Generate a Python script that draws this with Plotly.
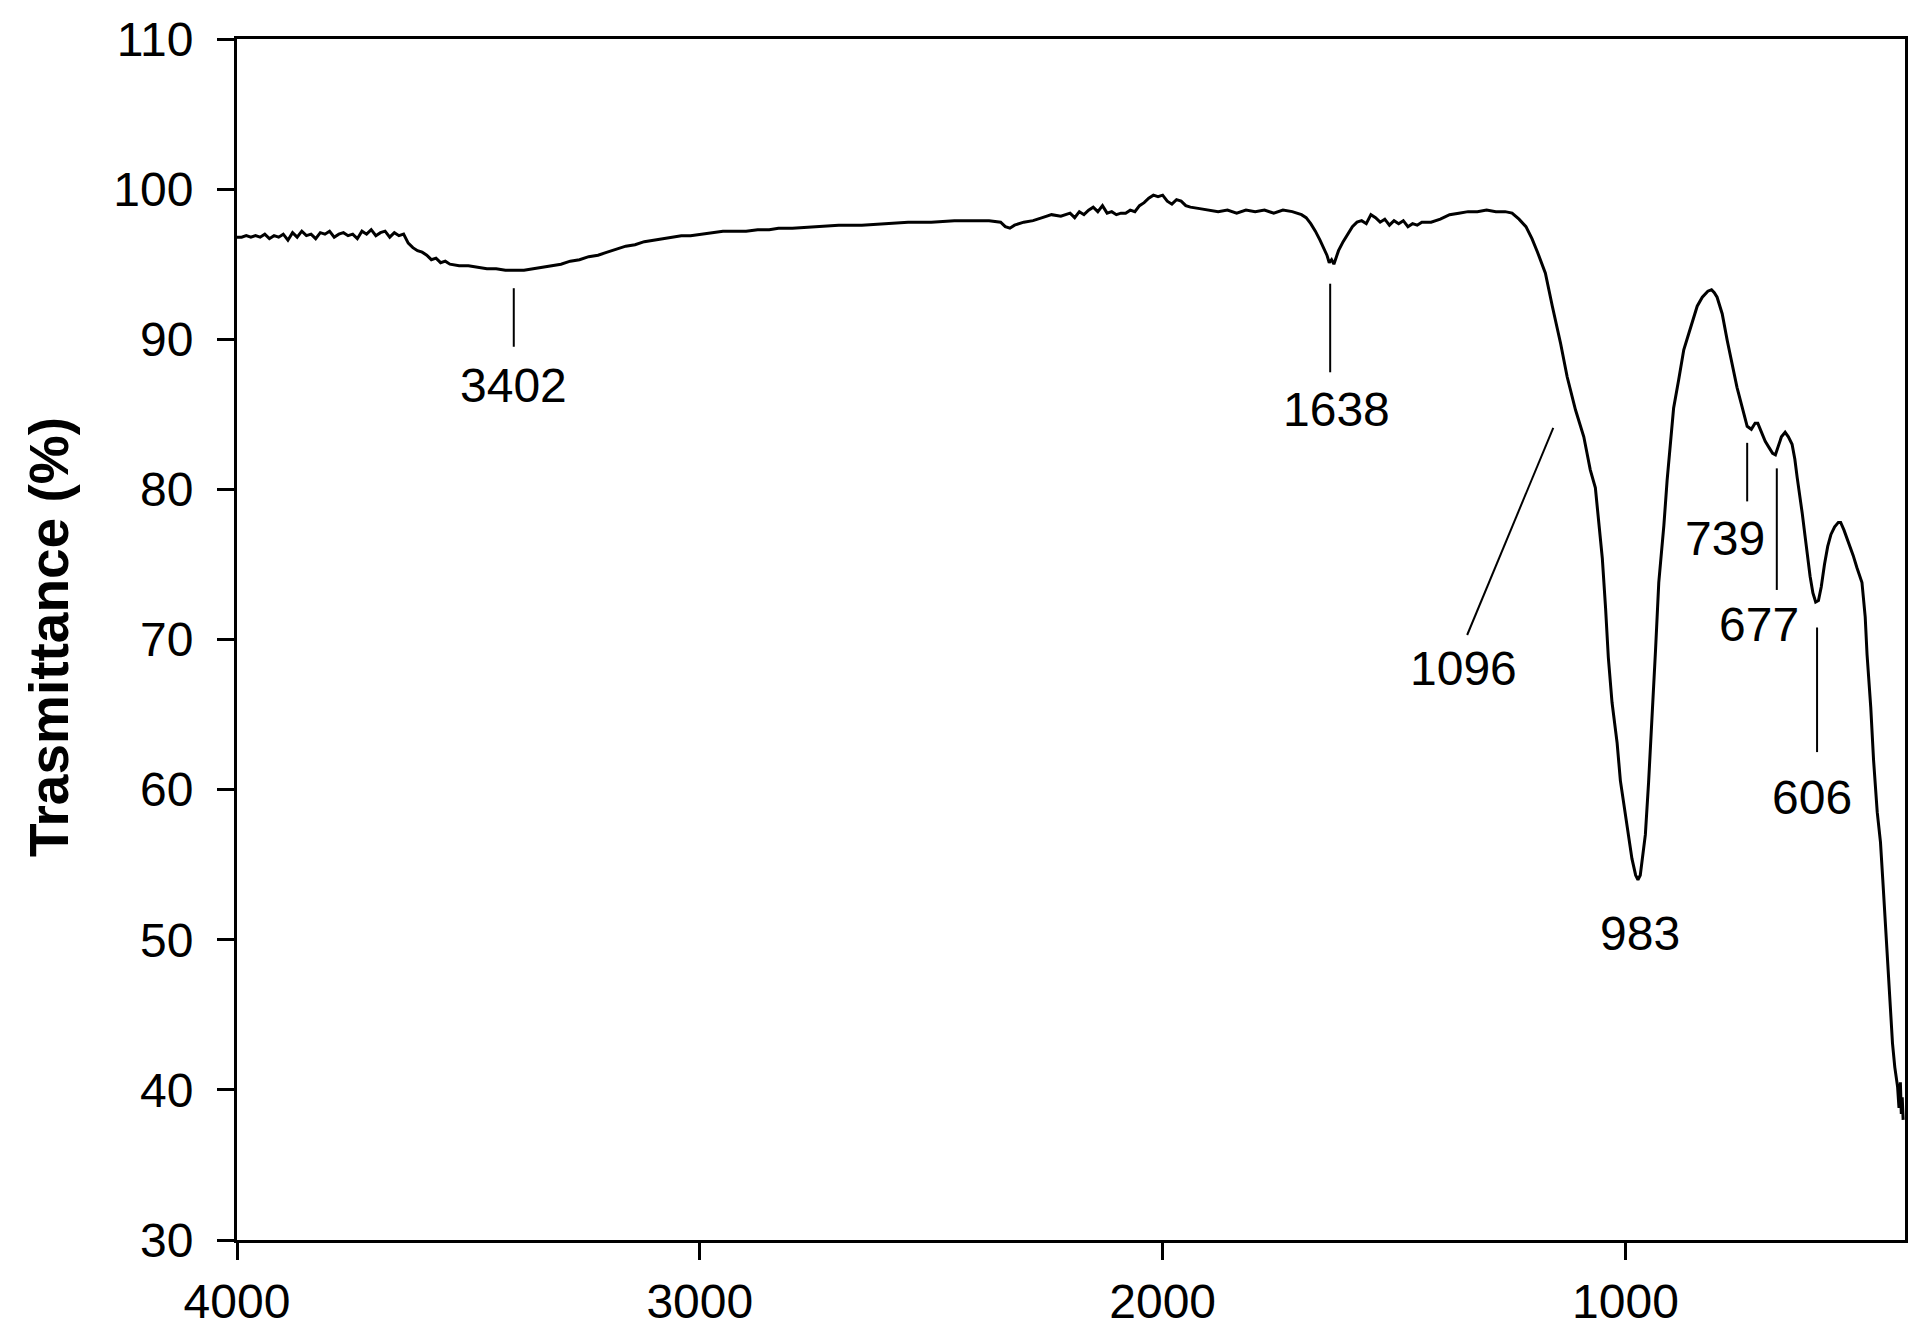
import plotly.graph_objects as go

# ---- data ----
wavenumber = [
    4000, 3990, 3980, 3970, 3960, 3950, 3940, 3930, 3920, 3910, 3900, 3890, 3880, 3870, 3860,
    3850, 3840, 3830, 3820, 3810, 3800, 3790, 3780, 3770, 3760, 3750, 3740, 3730, 3720, 3710,
    3700, 3690, 3680, 3670, 3660, 3650, 3640, 3630, 3620, 3610, 3600, 3590, 3580, 3570, 3560,
    3550, 3540, 3520, 3500, 3480, 3460, 3440, 3420, 3400, 3380, 3360, 3340, 3320, 3300, 3280,
    3260, 3240, 3220, 3200, 3180, 3160, 3140, 3120, 3100, 3080, 3060, 3040, 3020, 3000, 2975,
    2950, 2900, 2875, 2850, 2830, 2800, 2750, 2700, 2650, 2600, 2550, 2500, 2450, 2400, 2375,
    2350, 2340, 2330, 2320, 2300, 2280, 2260, 2240, 2220, 2200, 2190, 2180, 2170, 2160, 2150,
    2140, 2130, 2120, 2110, 2100, 2090, 2080, 2070, 2060, 2050, 2040, 2030, 2020, 2010, 2000,
    1990, 1980, 1970, 1960, 1950, 1940, 1920, 1900, 1880, 1860, 1840, 1820, 1800, 1780, 1760,
    1740, 1720, 1700, 1690, 1680, 1670, 1660, 1650, 1645, 1640, 1635, 1630, 1625, 1620, 1610,
    1600, 1590, 1580, 1570, 1560, 1550, 1540, 1530, 1520, 1510, 1500, 1490, 1480, 1470, 1460,
    1450, 1440, 1420, 1400, 1380, 1360, 1340, 1320, 1300, 1280, 1260, 1245, 1230, 1215, 1202,
    1190, 1173, 1158, 1140, 1126, 1108, 1090, 1076, 1065, 1058, 1050, 1043, 1037, 1029, 1018,
    1011, 1000, 993, 986, 978, 973, 968, 962, 957, 950, 942, 935, 928, 917, 910,
    903, 896, 885, 874, 863, 856, 845, 834, 822, 814, 808, 802, 791, 780, 769,
    759, 748, 737, 728, 720, 714, 706, 698, 690, 682, 676, 670, 663, 655, 648,
    640, 634, 629, 623, 618, 612, 607, 601, 595, 589, 583, 577, 570, 563, 556,
    548, 540, 535, 528, 522, 515, 508, 500, 489, 482, 478, 470, 464, 456, 449,
    444, 438, 431, 423, 418, 412, 409, 406, 404, 402, 400,
]
transmittance = [
    96.8, 96.8, 96.9, 96.8, 96.9, 96.8, 97.0, 96.7, 96.9, 96.8, 97.0, 96.6, 97.1, 96.8, 97.2,
    96.9, 97.0, 96.7, 97.1, 97.0, 97.2, 96.8, 97.0, 97.1, 96.9, 97.0, 96.7, 97.2, 97.0, 97.3,
    96.9, 97.1, 97.2, 96.8, 97.1, 96.9, 97.0, 96.4, 96.1, 95.9, 95.8, 95.6, 95.3, 95.4, 95.1,
    95.2, 95.0, 94.9, 94.9, 94.8, 94.7, 94.7, 94.6, 94.6, 94.6, 94.7, 94.8, 94.9, 95.0, 95.2,
    95.3, 95.5, 95.6, 95.8, 96.0, 96.2, 96.3, 96.5, 96.6, 96.7, 96.8, 96.9, 96.9, 97.0, 97.1,
    97.2, 97.2, 97.3, 97.3, 97.4, 97.4, 97.5, 97.6, 97.6, 97.7, 97.8, 97.8, 97.9, 97.9, 97.9,
    97.8, 97.5, 97.4, 97.6, 97.8, 97.9, 98.1, 98.3, 98.2, 98.4, 98.1, 98.5, 98.3, 98.6, 98.8,
    98.5, 98.9, 98.4, 98.5, 98.3, 98.4, 98.4, 98.6, 98.5, 98.9, 99.1, 99.4, 99.6, 99.5, 99.6,
    99.2, 99.0, 99.3, 99.2, 98.9, 98.8, 98.7, 98.6, 98.5, 98.6, 98.4, 98.6, 98.5, 98.6, 98.4,
    98.6, 98.5, 98.3, 98.1, 97.7, 97.2, 96.6, 96.0, 95.6, 95.1, 95.3, 95.0, 95.5, 95.9, 96.5,
    97.0, 97.5, 97.8, 97.9, 97.7, 98.3, 98.1, 97.8, 98.0, 97.6, 97.9, 97.7, 97.9, 97.5, 97.7,
    97.6, 97.8, 97.8, 98.0, 98.3, 98.4, 98.5, 98.5, 98.6, 98.5, 98.5, 98.4, 98.0, 97.5, 96.7,
    95.8, 94.4, 92.2, 89.7, 87.5, 85.3, 83.5, 81.3, 80.1, 78.1, 75.4, 72.1, 68.8, 65.8, 63.1,
    60.6, 58.4, 57.0, 55.4, 54.3, 54.0, 54.3, 55.6, 57.0, 60.5, 64.8, 69.3, 73.8, 77.6, 80.6,
    83.3, 85.4, 87.3, 89.3, 90.4, 91.1, 92.2, 92.8, 93.2, 93.3, 93.1, 92.8, 91.7, 89.9, 88.2,
    86.8, 85.5, 84.2, 84.0, 84.4, 84.4, 83.8, 83.2, 82.8, 82.4, 82.3, 82.8, 83.5, 83.8, 83.5,
    83.0, 82.0, 80.8, 79.6, 78.4, 76.9, 75.5, 74.2, 73.1, 72.5, 72.6, 73.5, 75.0, 76.2, 77.0,
    77.5, 77.8, 77.8, 77.3, 76.8, 76.2, 75.6, 74.8, 73.8, 71.5, 69.0, 65.5, 62.0, 58.5, 56.5,
    54.0, 51.1, 47.3, 43.1, 41.5, 40.2, 38.8, 40.5, 38.4, 39.5, 38.0,
]

# peak labels: text, label position, marker line (x0, y0, x1, y1)
peak_text = ["3402", "1638", "1096", "983", "739", "677", "606"]
peak_label_x = [3402, 1624, 1350, 969, 784, 712, 598]
peak_label_y = [86.9, 85.3, 68.1, 50.4, 76.7, 71.0, 59.5]
peak_line_x0 = [3402, 1638, 1156, None, 737, 673, 586]
peak_line_y0 = [93.4, 93.7, 84.1, None, 83.1, 81.4, 70.8]
peak_line_x1 = [3402, 1638, 1342, None, 737, 673, 586]
peak_line_y1 = [89.5, 87.8, 70.3, None, 79.2, 73.3, 62.5]

x_ticks = [4000, 3000, 2000, 1000]
y_ticks = [30, 40, 50, 60, 70, 80, 90, 100, 110]
y_title = "Trasmittance (%)"

FONT = "Liberation Sans, Arial, sans-serif"
TICK_SIZE = 48

fig = go.Figure()
fig.add_trace(go.Scatter(
    x=wavenumber, y=transmittance, mode="lines",
    line=dict(color="black", width=3), showlegend=False, hoverinfo="skip",
))

for i, t in enumerate(peak_text):
    fig.add_annotation(
        x=peak_label_x[i], y=peak_label_y[i], xref="x", yref="y", text=t,
        showarrow=False, xanchor="center", yanchor="middle",
        font=dict(family=FONT, size=TICK_SIZE, color="black"),
    )
    if peak_line_x0[i] is not None:
        fig.add_shape(
            type="line", xref="x", yref="y",
            x0=peak_line_x0[i], y0=peak_line_y0[i], x1=peak_line_x1[i], y1=peak_line_y1[i],
            line=dict(color="black", width=2),
        )

fig.add_annotation(
    x=-0.1127, y=0.502, xref="paper", yref="paper", text="<b>" + y_title + "</b>",
    textangle=-90, showarrow=False, xanchor="center", yanchor="middle",
    font=dict(family=FONT, size=55, color="black"),
)

axis_common = dict(
    showgrid=False, zeroline=False, showline=True, linecolor="black", linewidth=3,
    mirror=True, ticks="outside", ticklen=17, tickwidth=3, tickcolor="black",
    tickfont=dict(family=FONT, size=TICK_SIZE, color="black"), automargin=False,
)
fig.update_xaxes(range=[4000, 396], tickvals=x_ticks, ticktext=[str(v) for v in x_ticks],
                 ticklabelstandoff=0, **axis_common)
fig.update_yaxes(range=[30, 110], tickvals=y_ticks, ticktext=[str(v) for v in y_ticks],
                 ticklabelstandoff=14, **axis_common)

# page body has an 8px margin, so the figure is sized to fit the window
fig.update_layout(
    width=1916, height=1334,
    margin=dict(l=229, r=19, t=31, b=102),
    paper_bgcolor="white", plot_bgcolor="white",
    font=dict(family=FONT, color="black"),
)

fig.write_html("out.html")
